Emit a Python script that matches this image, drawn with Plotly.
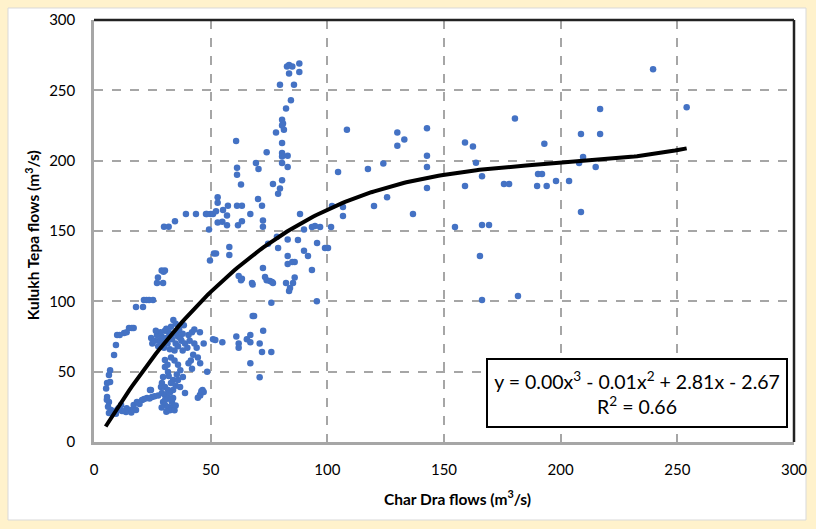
import numpy as np
import plotly.graph_objects as go

# ---- data ----
char_dra = [
    5.6, 6.4, 6.9, 6.9, 5.6, 6.4, 7.3, 6.4, 7.7, 9.9, 9.4, 5.2, 5.5, 6.0, 8.6, 9.4, 9.9, 12.9, 14.0, 11.0,
    11.6, 14.0, 17.0, 18.4, 20.6, 22.7, 24.9, 13.7, 15.9, 18.0, 12.0, 16.0, 10.5, 19.5, 21.5, 23.8, 26.0, 27.5,
    15.0, 17.0, 16.2, 18.0, 21.0, 21.4, 23.6, 25.3, 22.5, 27.0, 29.6, 27.4, 29.0, 30.4, 29.8, 30.0, 32.0, 34.7,
    39.4, 43.7, 48.0, 50.0, 49.3, 49.7, 51.4,
    34.0, 30.4, 32.0, 27.0, 24.5, 25.0, 28.0, 31.5, 33.5, 35.0, 37.0, 38.0, 36.0, 40.0, 34.5, 27.5, 29.0, 31.0,
    33.0, 35.5, 36.5, 38.5, 37.5, 30.0, 32.5, 26.0, 29.5, 34.0, 36.0, 39.0, 41.0, 42.0, 43.0, 40.5, 33.0, 35.0,
    31.0, 28.5, 26.5, 38.0, 42.5, 41.5, 44.5,
    30.4, 30.4, 31.7, 29.6, 29.1, 28.7, 30.4, 31.7, 29.1, 30.4, 31.7, 29.6, 30.4, 31.7, 33.4, 33.4, 33.9, 33.9,
    33.9, 36.0, 36.9, 38.1, 39.0, 32.5, 31.0, 34.5, 35.0, 32.5, 33.0, 35.0, 32.0, 35.5, 31.5, 33.0, 36.0, 37.0,
    34.5, 29.0, 30.5, 33.0, 24.4, 24.0,
    45.4, 46.5, 45.5, 47.0, 44.5, 46.0,
    45.4, 47.0, 51.0, 55.0, 48.5, 45.5, 40.5, 42.0, 44.0, 43.0,
    61.0, 62.0, 65.5, 67.0, 71.0, 72.0, 76.0, 67.0, 71.0, 72.5, 68.0, 76.0, 95.5, 62.0, 67.0, 52.0,
    83.6, 82.7, 85.0, 88.0, 83.6, 88.0, 79.7, 85.7, 84.4, 82.3, 80.6, 81.0, 81.4, 78.0, 80.6, 60.9, 80.6, 74.0,
    80.6, 80.6, 83.0, 80.6, 83.0, 69.4, 70.5, 61.3, 61.3, 63.0, 76.7, 79.7, 78.9, 80.6, 70.3, 72.0, 53.0, 53.0,
    57.4, 51.0, 48.4, 52.3, 57.0, 55.3, 61.3, 63.4, 67.0, 72.4, 72.4, 88.3, 53.0, 55.0, 57.0, 61.7, 63.4, 90.0,
    93.4, 94.7, 96.9, 101.6, 102.0, 106.7, 106.7, 108.4, 104.6, 78.4, 83.0, 87.4, 95.6, 99.0, 100.3, 58.0, 58.0,
    52.3, 74.6, 78.9, 90.0, 91.7, 86.0, 83.0, 93.4, 72.4, 73.3, 74.0, 75.4, 76.3, 76.7, 62.0, 63.4, 67.7, 82.3,
    85.3, 84.0, 83.6, 86.0, 85.0, 68.6, 63.0, 68.0, 83.0,
    117.4, 124.0, 130.0, 130.0, 133.0, 142.7, 142.7, 142.7, 142.7, 125.6, 120.0, 136.7, 159.0, 162.4, 163.7,
    166.3, 159.0, 154.7, 166.3, 169.3, 165.4, 166.3, 181.7, 180.4, 193.0, 175.7, 177.9, 189.9, 194.0, 198.0,
    203.6, 190.3, 192.0, 207.9, 209.6, 215.0, 208.7, 208.7, 216.9, 216.9, 239.6, 254.0,
]
kulukh_tepa = [
    42.0, 47.6, 51.0, 42.6, 32.0, 28.4, 22.7, 20.6, 20.6, 22.7, 20.0, 38.0, 30.0, 25.0, 61.8, 69.0, 76.0, 77.5, 78.0, 76.0,
    26.3, 24.0, 26.3, 28.4, 29.9, 31.3, 32.0, 21.3, 22.7, 22.7, 22.0, 21.0, 24.0, 27.0, 30.5, 31.0, 32.5, 33.0,
    81.0, 81.0, 81.0, 96.0, 96.0, 101.0, 101.0, 101.0, 101.0, 113.0, 113.0, 117.0, 122.0, 122.0, 121.0, 153.0, 153.0, 157.0,
    162.0, 162.0, 162.0, 162.0, 151.0, 129.0, 134.0,
    86.7, 79.0, 78.0, 76.0, 74.0, 70.0, 72.0, 70.0, 73.0, 70.0, 74.0, 77.0, 68.0, 67.0, 65.0, 68.0, 75.0, 74.0,
    76.0, 78.0, 80.0, 83.0, 72.0, 67.0, 66.0, 72.0, 71.5, 77.0, 75.0, 70.0, 72.0, 78.0, 80.0, 76.0, 82.0, 84.0,
    80.5, 78.0, 79.0, 65.0, 62.0, 58.0, 60.0,
    58.3, 53.3, 49.8, 46.2, 41.9, 39.1, 39.1, 37.0, 34.8, 33.4, 31.3, 28.4, 26.3, 24.9, 24.2, 28.4, 31.3, 37.0,
    44.0, 44.0, 39.1, 46.2, 34.8, 22.5, 21.5, 22.5, 26.0, 35.0, 42.0, 40.0, 47.0, 48.0, 55.0, 60.0, 55.0, 51.0,
    58.0, 24.5, 30.0, 30.0, 37.0, 37.0,
    33.4, 37.0, 33.0, 35.5, 31.5, 36.0,
    78.0, 70.0, 73.0, 71.0, 50.0, 56.0, 56.0, 52.0, 67.0, 70.0,
    75.0, 70.0, 73.0, 71.0, 70.0, 64.0, 64.0, 56.0, 46.0, 79.0, 89.6, 99.0, 100.0, 67.0, 76.0, 72.5,
    268.0, 267.0, 267.0, 269.0, 262.0, 263.0, 254.0, 254.0, 243.0, 237.0, 229.0, 226.5, 222.0, 220.0, 225.0, 214.0, 212.6, 206.0,
    205.5, 203.0, 203.5, 198.3, 195.5, 198.3, 194.0, 195.0, 190.0, 183.0, 183.5, 180.3, 176.5, 186.0, 172.7, 168.0, 174.0, 170.0,
    168.0, 162.0, 162.0, 164.0, 161.0, 165.0, 168.0, 168.0, 162.0, 157.5, 153.0, 162.0, 156.0, 156.6, 154.0, 154.0, 157.0, 151.0,
    152.8, 153.6, 152.8, 152.8, 167.8, 167.0, 160.6, 222.0, 192.0, 146.0, 144.0, 143.6, 141.5, 137.9, 137.9, 138.6, 133.0,
    134.0, 141.0, 137.9, 136.0, 132.2, 128.0, 126.5, 122.3, 123.7, 117.3, 115.0, 114.5, 113.7, 113.0, 118.0, 116.0, 113.0, 113.0,
    113.0, 109.5, 107.3, 117.0, 128.0, 89.6, 115.0, 112.0, 132.2,
    194.0, 198.0, 220.0, 210.6, 215.0, 223.0, 203.5, 195.5, 180.5, 174.0, 167.8, 162.0, 213.0, 210.0, 198.5,
    189.0, 182.0, 152.8, 154.3, 154.3, 132.2, 101.0, 103.8, 230.0, 212.0, 183.4, 183.4, 182.0, 182.0, 185.5,
    185.5, 190.5, 190.5, 198.3, 202.6, 195.5, 163.5, 219.0, 219.0, 236.7, 265.0, 238.0,
]

# trend line (cubic), coefficients highest power first, and its x extent
trend_coef = [2.293e-5, -0.01361, 2.81, -2.67]
trend_x_range = [5.0, 254.0]

x_ticks = [0, 50, 100, 150, 200, 250, 300]
y_ticks = [0, 50, 100, 150, 200, 250, 300]

equation_text = "y = 0.00x<sup>3</sup> - 0.01x<sup>2</sup> + 2.81x - 2.67<br>R<sup>2</sup> = 0.66"
x_title = "<b>Char Dra flows (m<sup>3</sup>/s)</b>"
y_title = "<b>Kulukh Tepa flows (m<sup>3</sup>/s)</b>"

# ---- figure ----
FONT = "Lato, Carlito, Calibri, sans-serif"
PW, PH = 700, 422  # plot area size in px
tx = np.linspace(trend_x_range[0], trend_x_range[1], 200)
ty = np.polyval(trend_coef, tx)

fig = go.Figure()
fig.add_trace(go.Scatter(
    x=char_dra, y=kulukh_tepa, mode="markers",
    marker=dict(color="#4472C4", size=6.5, line=dict(width=0)),
    showlegend=False, cliponaxis=False,
))
fig.add_trace(go.Scatter(
    x=tx, y=ty, mode="lines", line=dict(color="black", width=4),
    showlegend=False,
))

axis_common = dict(
    showgrid=True, gridcolor="#A6A6A6", griddash="dash", gridwidth=1.5,
    showline=True, linecolor="#A6A6A6", linewidth=2.5, automargin=False,
    zeroline=False, ticks="", tickfont=dict(family=FONT, size=15, color="#000"),
)
fig.update_xaxes(range=[0, 300], tickvals=x_ticks, ticklabelstandoff=12, **axis_common)
fig.update_yaxes(range=[0, 300], tickvals=y_ticks, ticklabelstandoff=13, **axis_common)

# axis titles
fig.add_annotation(x=(457 - 94) / PW, y=-55 / PH, xref="paper", yref="paper", text=x_title,
                   showarrow=False, xanchor="center", yanchor="middle",
                   font=dict(family=FONT, size=15.5, color="#000"))
fig.add_annotation(x=-62 / PW, y=0.49, xref="paper", yref="paper", text=y_title,
                   showarrow=False, xanchor="center", yanchor="middle", textangle=-90,
                   font=dict(family=FONT, size=15.5, color="#000"))

fig.add_annotation(
    x=232.7, y=34.8, xref="x", yref="y", text=equation_text, showarrow=False,
    font=dict(family=FONT, size=19.5, color="#000"), align="center",
    bgcolor="white", bordercolor="black", borderwidth=2, width=296, height=64,
)

# page background: cream border with white chart area
fig.add_shape(type="rect", xref="paper", yref="paper", layer="below",
              x0=-86 / PW, x1=1 + 12 / PW, y0=-78 / PH, y1=1 + 12 / PH,
              fillcolor="white", line=dict(color="#D9D9D9", width=1))
# top and right frame of the plot area
fig.add_shape(type="line", xref="paper", yref="paper", x0=0, x1=1, y0=1, y1=1,
              line=dict(color="#222", width=2.5))
fig.add_shape(type="line", xref="paper", yref="paper", x0=1, x1=1, y0=0, y1=1,
              line=dict(color="#222", width=2.5))

fig.update_layout(
    width=816, height=529,
    margin=dict(l=94, r=22, t=20, b=87),
    paper_bgcolor="#FFF2CC", plot_bgcolor="white",
    font=dict(family=FONT),
)
fig.write_html(
    "out.html",
    config={"displayModeBar": False},
    post_script="document.body.style.margin='0';document.body.style.background='#FFF2CC';document.body.style.overflow='hidden';",
)
